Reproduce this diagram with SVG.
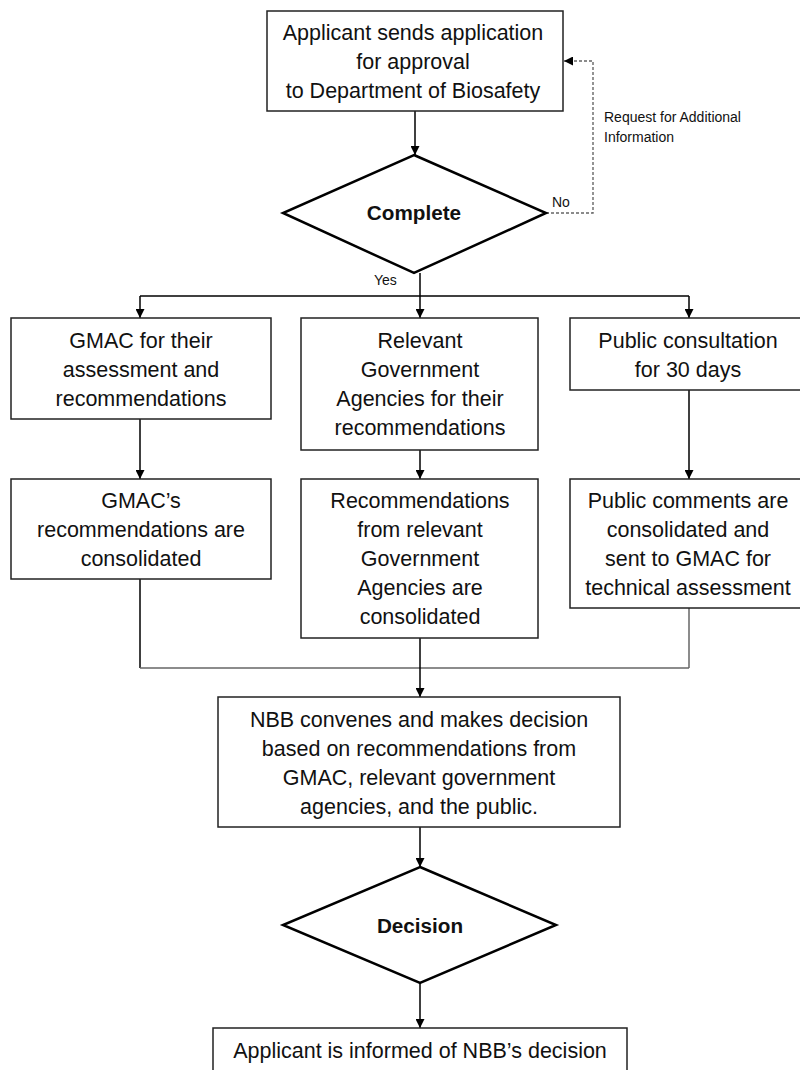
<svg xmlns="http://www.w3.org/2000/svg" width="800" height="1070" viewBox="0 0 800 1070">
<defs>
<marker id="arr" viewBox="0 0 10 10" refX="10" refY="5" markerWidth="9" markerHeight="9" markerUnits="userSpaceOnUse" orient="auto">
<path d="M0,0 L10,5 L0,10 z" fill="#000"/>
</marker>
</defs>
<style>
.box{fill:#fff;stroke:#222;stroke-width:1.5}
.dia{fill:#fff;stroke:#000;stroke-width:2.5}
.t{font-family:"Liberation Sans",Arial,sans-serif;font-size:21.5px;fill:#111;text-anchor:middle}
.b{font-family:"Liberation Sans",Arial,sans-serif;font-size:20.7px;font-weight:bold;fill:#111;text-anchor:middle}
.s{font-family:"Liberation Sans",Arial,sans-serif;font-size:14px;fill:#111}
.c{fill:none;stroke:#000;stroke-width:1.5}
.g{fill:none;stroke:#666;stroke-width:1.5}
.d{fill:none;stroke:#666;stroke-width:1.4;stroke-dasharray:3,2}
</style>
<rect width="800" height="1070" fill="#fff"/>
<g id="connectors">
<line class="c" x1="415" y1="111" x2="415" y2="155" marker-end="url(#arr)"/>
<polyline class="d" points="546,213 593,213 593,61 564,61" marker-end="url(#arr)"/>
<line class="c" x1="420" y1="273" x2="420" y2="296"/>
<line class="c" x1="140" y1="296" x2="689" y2="296"/>
<line class="c" x1="140" y1="296" x2="140" y2="318" marker-end="url(#arr)"/>
<line class="c" x1="420" y1="296" x2="420" y2="318" marker-end="url(#arr)"/>
<line class="c" x1="689" y1="296" x2="689" y2="318" marker-end="url(#arr)"/>
<line class="c" x1="140" y1="419" x2="140" y2="479" marker-end="url(#arr)"/>
<line class="c" x1="420" y1="450" x2="420" y2="479" marker-end="url(#arr)"/>
<line class="c" x1="689" y1="390" x2="689" y2="479" marker-end="url(#arr)"/>
<line class="c" x1="140" y1="579" x2="140" y2="668"/>
<line class="g" x1="689" y1="608" x2="689" y2="668"/>
<line class="g" x1="140" y1="668" x2="689" y2="668"/>
<line class="c" x1="420" y1="638" x2="420" y2="697" marker-end="url(#arr)"/>
<line class="c" x1="420" y1="827" x2="420" y2="867" marker-end="url(#arr)"/>
<line class="c" x1="420" y1="983" x2="420" y2="1028" marker-end="url(#arr)"/>
<text class="s" x="552" y="207">No</text>
<text class="s" x="374" y="285">Yes</text>
<text class="s" x="604" y="122">Request for Additional</text>
<text class="s" x="604" y="142">Information</text>
</g>
<g id="apply">
<rect class="box" x="267" y="11" width="296" height="100"/>
<text class="t" x="413" y="40">Applicant sends application</text>
<text class="t" x="413" y="69">for approval</text>
<text class="t" x="413" y="98">to Department of Biosafety</text>
</g>
<g id="complete">
<polygon class="dia" points="414,155 546,213 414,273 283,213"/>
<text class="b" x="414" y="220">Complete</text>
</g>
<g id="gmac">
<rect class="box" x="11" y="318" width="260" height="101"/>
<text class="t" x="141" y="348">GMAC for their</text>
<text class="t" x="141" y="377">assessment and</text>
<text class="t" x="141" y="406">recommendations</text>
</g>
<g id="agencies">
<rect class="box" x="301" y="318" width="237" height="132"/>
<text class="t" x="420" y="348">Relevant</text>
<text class="t" x="420" y="377">Government</text>
<text class="t" x="420" y="406">Agencies for their</text>
<text class="t" x="420" y="435">recommendations</text>
</g>
<g id="public">
<rect class="box" x="570" y="318" width="238" height="72"/>
<text class="t" x="688" y="348">Public consultation</text>
<text class="t" x="688" y="377">for 30 days</text>
</g>
<g id="gmac-cons">
<rect class="box" x="11" y="479" width="260" height="100"/>
<text class="t" x="141" y="508">GMAC’s</text>
<text class="t" x="141" y="537">recommendations are</text>
<text class="t" x="141" y="566">consolidated</text>
</g>
<g id="agencies-cons">
<rect class="box" x="301" y="479" width="237" height="159"/>
<text class="t" x="420" y="508">Recommendations</text>
<text class="t" x="420" y="537">from relevant</text>
<text class="t" x="420" y="566">Government</text>
<text class="t" x="420" y="595">Agencies are</text>
<text class="t" x="420" y="624">consolidated</text>
</g>
<g id="public-cons">
<rect class="box" x="570" y="479" width="238" height="129"/>
<text class="t" x="688" y="508">Public comments are</text>
<text class="t" x="688" y="537">consolidated and</text>
<text class="t" x="688" y="566">sent to GMAC for</text>
<text class="t" x="688" y="595">technical assessment</text>
</g>
<g id="nbb">
<rect class="box" x="218" y="697" width="402" height="130"/>
<text class="t" x="419" y="727">NBB convenes and makes decision</text>
<text class="t" x="419" y="756">based on recommendations from</text>
<text class="t" x="419" y="785">GMAC, relevant government</text>
<text class="t" x="419" y="814">agencies, and the public.</text>
</g>
<g id="decision">
<polygon class="dia" points="420,867 556,925 420,983 283,925"/>
<text class="b" x="420" y="933">Decision</text>
</g>
<g id="informed">
<rect class="box" x="213" y="1028" width="414" height="60"/>
<text class="t" x="420" y="1058">Applicant is informed of NBB’s decision</text>
</g>
</svg>
